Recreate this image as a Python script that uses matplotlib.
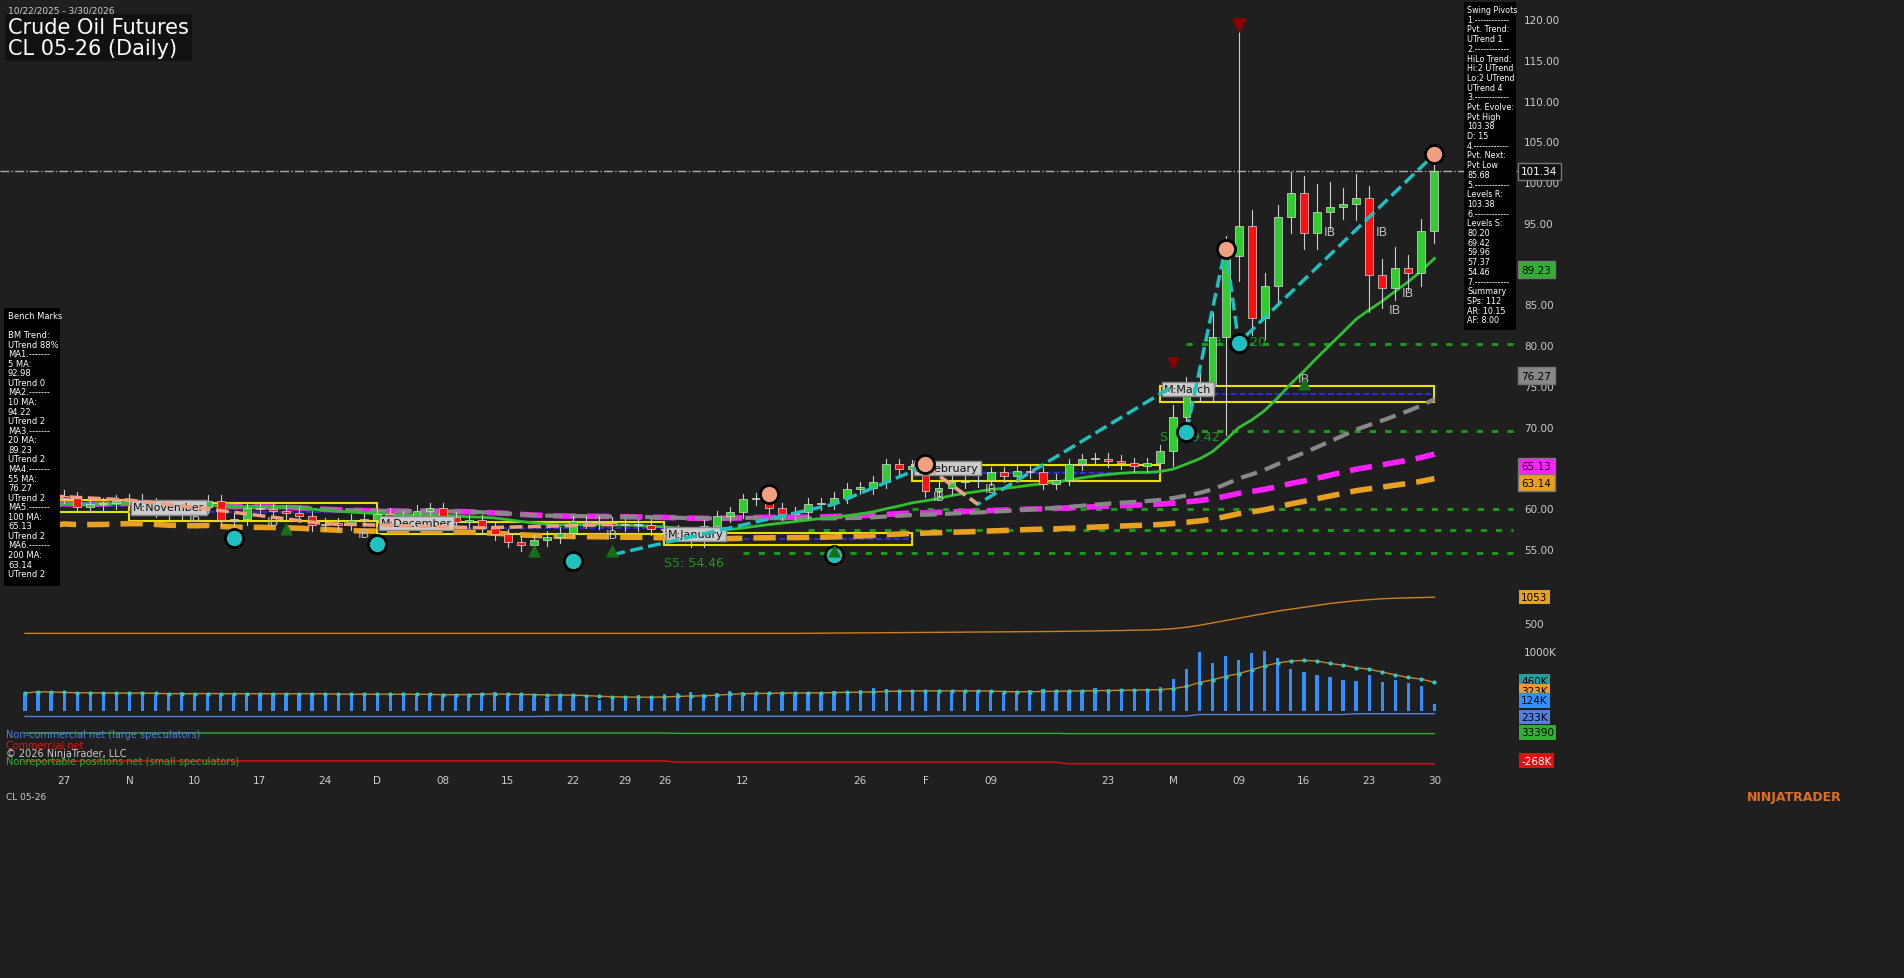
import numpy as np
import pandas as pd
import matplotlib
matplotlib.use("Agg")
import matplotlib.pyplot as plt
from matplotlib.patches import Rectangle

W, H = 1904, 979
BG = "#1f1f1f"

holidays = ["2025-11-27", "2025-12-25", "2026-01-01", "2026-01-19", "2026-02-16"]
dates = pd.bdate_range("2025-10-22", "2026-03-30")
dates = dates[~dates.isin(pd.to_datetime(holidays))]

close_oct = [58.5, 61.0, 61.5, 61.3, 60.2, 60.5, 60.6, 60.9]
close_nov = [61.0, 60.6, 59.6, 59.4, 59.8, 60.1, 60.9, 58.5, 58.7, 60.0, 59.9, 59.7, 59.4, 59.0, 57.9, 58.1, 58.0, 58.6, 58.5]
close_dec = [59.3, 59.0, 58.9, 59.7, 60.0, 58.9, 58.3, 58.5, 57.6, 56.8, 55.9, 55.5, 56.1, 56.5, 57.0, 58.4, 58.3, 58.2, 58.0, 57.9, 58.0, 57.4]
close_jan = [57.3, 56.8, 56.0, 57.8, 59.0, 59.5, 61.1, 61.2, 60.0, 59.3, 59.5, 60.5, 60.6, 61.3, 62.4, 62.5, 63.2, 65.4, 64.8, 65.2]
close_feb = [62.1, 62.5, 63.2, 63.3, 63.5, 64.4, 63.9, 64.6, 64.4, 63.0, 63.5, 65.4, 66.0, 66.1, 65.8, 65.5, 65.2, 65.5, 67.0]
close_mar = [71.2, 74.6, 75.0, 81.0, 90.9, 94.6, 83.3, 87.3, 95.7, 98.7, 93.8, 96.3, 97.0, 97.3, 98.0, 88.6, 87.0, 89.5, 88.8, 94.0, 101.34]
upwick_mar = [1.5, 1.5, 2.0, 3.0, 2.5, 24.9, 2.0, 1.5, 1.5, 2.5, 2.0, 3.5, 3.0, 2.0, 3.0, 1.5, 2.0, 2.5, 1.5, 1.5, 1.5]
lowick_mar = [1.8, 2.5, 1.5, 2.0, 12.0, 3.0, 2.0, 2.5, 2.0, 2.0, 2.0, 2.0, 2.0, 1.5, 2.0, 4.5, 2.5, 1.5, 2.0, 1.5, 1.5]

volume_k = [300, 340, 310, 290, 280, 300, 290, 280, 300, 290, 270, 280, 310, 290, 300, 280, 270, 290, 300, 280,
            270, 290, 300, 280, 260, 250, 280, 290, 300, 270, 280, 260, 250, 280, 290, 300, 310, 270, 260, 230,
            220, 250, 240, 200, 180, 220, 250, 260, 240, 290, 300, 310, 280, 300, 330, 320, 290, 280, 300, 290,
            310, 320, 330, 340, 350, 380, 360, 340, 320, 310, 300, 320, 330, 340, 320, 300, 330, 350, 360, 340,
            330, 340, 380, 360, 350, 340, 370, 400, 530, 700, 980, 800, 920, 850, 960, 1000, 880, 700, 650, 600,
            560, 520, 500, 600, 480, 520, 460, 420, 124]
oi = [290]*60 + [292, 294, 296, 298, 300, 302, 304, 306, 308, 310, 312, 314, 316, 318, 320, 322, 324, 326, 328,
      330, 334, 338, 342, 346, 350, 356, 362, 370, 390, 420, 460, 510, 560, 610, 660, 710, 760, 800, 840, 880,
      920, 950, 980, 1000, 1020, 1030, 1040, 1045, 1053]
cot_noncomm = [205]*40 + [207]*30 + [210]*20 + [225]*12 + [233]*7
cot_small = [40]*50 + [36]*30 + [34]*29
cot_comm = [-240]*50 + [-252]*30 + [-268]*29

closes = np.array(close_oct + close_nov + close_dec + close_jan + close_feb + close_mar)
n = len(closes)
opens = np.r_[closes[0] - 0.5, closes[:-1]]
upw = np.array([0.7] * (n - 21) + upwick_mar)
low = np.array([0.7] * (n - 21) + lowick_mar)
highs = np.maximum(opens, closes) + upw
lows = np.minimum(opens, closes) - low
x = np.arange(n)
s = pd.Series(closes)
ma20 = s.rolling(20, min_periods=1).mean()
ma55 = s.rolling(55, min_periods=1).mean()
ma100 = s.rolling(100, min_periods=1).mean()
ma200 = s.rolling(200, min_periods=1).mean() - 2.5

fig = plt.figure(figsize=(W / 100, H / 100), dpi=100, facecolor=BG)

def axp(x0, y0, x1, y1):
    a = fig.add_axes([x0 / W, 1 - y1 / H, (x1 - x0) / W, (y1 - y0) / H])
    a.set_facecolor(BG)
    for sp in a.spines.values():
        sp.set_visible(False)
    a.tick_params(colors="#cccccc", labelsize=7.5, length=0)
    return a

XL = (-25 / 13.05, (1519 - 25) / 13.05)
ax = axp(0, 0, 1519, 593)
ax.set_xlim(*XL)
ax.set_ylim(49.73, 122.45)
ax.yaxis.tick_right()
ax.set_yticks(np.arange(55, 121, 5))
ax.set_yticklabels([f"{v:.2f}" for v in np.arange(55, 121, 5)])
ax.set_xticks([])

# levels
for lv, start in [(80.2, 89), (69.42, 89), (59.96, 68), (57.37, 60), (54.46, 55)]:
    ax.plot([start, 114], [lv, lv], color="#1a9a1a", ls=(0, (2, 3)), lw=2.2, zorder=1)
ax.axhline(101.34, color="#aaaaaa", ls="-.", lw=1)

# month boxes
boxes = [(-1, 8, 59.6, 61.0, "M:November"), (8, 27, 58.4, 60.6, "M:November"),
         (27, 49, 56.8, 58.3, "M:December"), (49, 68, 55.5, 57.0, "M:January"),
         (68, 87, 63.3, 65.3, "M:February"), (87, 108, 73.0, 75.0, "M:March")]
for a0, a1, y0, y1, lab in boxes:
    ax.add_patch(Rectangle((a0, y0), a1 - a0, y1 - y0, fill=False, ec="#e8e000", lw=1.5, zorder=2))
    ax.plot([a0, a1], [(y0 + y1) / 2] * 2, color="#3030ff", ls="--", lw=1.2, zorder=2)
for a0, a1, y0, y1, lab in boxes[1:]:
    ax.text(a0 + 0.3, (y0 + y1) / 2 + 0.6, lab, fontsize=8, color="#111111",
            bbox=dict(fc="#cccccc", ec="#888888", pad=1.5), zorder=6, va="center")

# moving averages
ax.plot(x, ma200, color="#e8a020", lw=4, ls=(0, (4, 2)), zorder=3)
ax.plot(x, ma100, color="#ff20ff", lw=4, ls=(0, (4, 2)), zorder=3)
ax.plot(x, ma55, color="#888888", lw=3, ls=(0, (4, 2)), zorder=3)
ax.plot(x, ma20, color="#30c030", lw=2, zorder=3)

# candles
for i in x:
    up = closes[i] >= opens[i]
    col = "#30cc30" if up else "#ff1010"
    ax.plot([i, i], [lows[i], highs[i]], color="#cccccc", lw=0.8, zorder=4)
    b0, b1 = min(opens[i], closes[i]), max(opens[i], closes[i])
    ax.add_patch(Rectangle((i - 0.3, b0), 0.6, max(b1 - b0, 0.15), fc=col, ec="#dddddd", lw=0.5, zorder=5))

# swing pivot lines
sal = [2, 8, 13, 23, 35, 45]
ax.plot(sal, [closes[i] for i in sal], color="#f0a080", ls="--", lw=2.5, zorder=6)
ax.plot([45, 62, 69], [54.3, 60.5, 65.2], color="#20c0c0", ls="--", lw=2.5, zorder=6)
ax.plot([69, 73, 88], [65.2, 60.5, 75.0], color="#20c0c0", ls="--", lw=2.5, zorder=6)
ax.plot([89, 92, 93, 108], [69.4, 92.0, 80.3, 103.4], color="#20c0c0", ls="--", lw=2.5, zorder=6)
ax.plot([69, 73], [65.2, 60.5], color="#f0a080", ls="--", lw=2.5, zorder=6)
for (xi, yi, c) in [(16, 56.4, "#20c0c0"), (27, 55.6, "#20c0c0"), (42, 53.5, "#20c0c0"), (62, 54.3, "#20c0c0"),
                    (69, 65.4, "#f0a080"), (57, 61.8, "#f0a080"), (92, 91.8, "#f0a080"), (89, 69.4, "#20c0c0"),
                    (93, 80.3, "#20c0c0"), (108, 103.4, "#f0a080")]:
    ax.scatter(xi, yi, s=170, color=c, edgecolors="black", linewidths=2, zorder=7)
ax.scatter(93, 119.3, marker="v", s=90, color="#8b0000", zorder=7)
ax.scatter(88, 77.8, marker="v", s=60, color="#8b0000", zorder=7)
for xi, yi in [(45, 54.7), (39, 54.7), (62, 54.7), (20, 57.5), (98, 75.2)]:
    ax.scatter(xi, yi, marker="^", s=60, color="#157015", zorder=7)
for xi, yi in [(13, 58.5), (19, 58.0), (26, 56.5), (29, 57.5), (45, 56.3), (70, 61.0), (74, 62.0), (98, 75.5),
               (100, 93.5), (104, 93.5), (106, 86.0), (105, 84.0), (89, 69.4)]:
    ax.text(xi, yi, "IB", color="#bbbbbb", fontsize=9, ha="center")
ax.text(49, 52.9, "S5: 54.46", color="#1a9a1a", fontsize=9)
ax.text(87, 68.4, "S2: 69.42", color="#1a9a1a", fontsize=9)
ax.text(90.5, 80.0, "S3: 80.20", color="#1a9a1a", fontsize=9)

# right price labels
for v, fc, tc in [(101.34, "#111111", "white"), (89.23, "#30b030", "black"), (76.27, "#888888", "black"),
                  (65.13, "#ff20ff", "black"), (63.14, "#e8a020", "black")]:
    ax.text(1.0015, (v - 49.73) / (122.45 - 49.73), f"{v:.2f}", transform=ax.transAxes, fontsize=7.5,
            color=tc, va="center", ha="left", bbox=dict(fc=fc, ec="#777777", pad=2.5), clip_on=False)

# title
fig.text(8 / W, 1 - 7 / H, "10/22/2025 - 3/30/2026", color="#cccccc", fontsize=6.5, va="top")
fig.text(8 / W, 1 - 18 / H, "Crude Oil Futures\nCL 05-26 (Daily)", color="white", fontsize=15, va="top",
         linespacing=1.05, bbox=dict(fc="#111111", ec="none", pad=2))

bench = ("Bench Marks\n\nBM Trend:\nUTrend 88%\nMA1.-------\n5 MA:\n92.98\nUTrend 0\nMA2.-------\n10 MA:\n94.22\n"
         "UTrend 2\nMA3.-------\n20 MA:\n89.23\nUTrend 2\nMA4.-------\n55 MA:\n76.27\nUTrend 2\nMA5.-------\n"
         "100 MA:\n65.13\nUTrend 2\nMA6.-------\n200 MA:\n63.14\nUTrend 2")
fig.add_artist(Rectangle((4 / W, 1 - 587 / H), 56 / W, 278 / H, transform=fig.transFigure, fc="black", ec="none", zorder=8))
fig.text(8 / W, 1 - 312 / H, bench, color="white", fontsize=6.0, va="top", linespacing=1.08, zorder=9)
swing = ("Swing Pivots\n1.------------\nPvt. Trend:\nUTrend 1\n2.------------\nHiLo Trend:\nHi:2 UTrend\nLo:2 UTrend\n"
         "UTrend 4\n3.------------\nPvt. Evolve:\nPvt High\n103.38\nD: 15\n4.------------\nPvt. Next:\nPvt Low\n85.68\n"
         "5.------------\nLevels R:\n103.38\n6.------------\nLevels S:\n80.20\n69.42\n59.96\n57.37\n54.46\n7.------------\n"
         "Summary\nSPs: 112\nAR: 10.15\nAF: 8.00")
fig.add_artist(Rectangle((1464 / W, 1 - 331 / H), 52 / W, 328 / H, transform=fig.transFigure, fc="black", ec="none", zorder=8))
fig.text(1467 / W, 1 - 6 / H, swing, color="white", fontsize=5.8, va="top", linespacing=1.1, zorder=9)

# open interest panel
ax2 = axp(0, 595, 1519, 641)
ax2.set_xlim(*XL)
ax2.plot(x, oi, color="#d08020", lw=1)
ax2.set_ylim(150, 1120)
ax2.yaxis.tick_right()
ax2.set_yticks([500])
ax2.set_xticks([])
ax2.text(1.0015, (1053 - 150) / 970, "1053", transform=ax2.transAxes, fontsize=7.5, va="center",
         bbox=dict(fc="#e8a020", ec="none", pad=1.5), clip_on=False)

# volume panel
ax3 = axp(0, 643, 1519, 712)
ax3.set_xlim(*XL)
ax3.bar(x, volume_k, width=0.25, color="#3090ff")
vm = pd.Series(volume_k).rolling(10, min_periods=1).mean()
ax3.plot(x, vm, color="#d08020", lw=1)
ax3.scatter(x, vm, s=4, color="#20d0d0", zorder=3)
ax3.set_ylim(0, 1150)
ax3.yaxis.tick_right()
ax3.set_yticks([1000])
ax3.set_yticklabels(["1000K"])
ax3.set_xticks([])
for v, t, fc in [(500, "460K", "#20a0a0"), (340, "323K", "#e8a020"), (175, "124K", "#3090ff")]:
    ax3.text(1.0015, v / 1150, t, transform=ax3.transAxes, fontsize=7.5, va="center",
             bbox=dict(fc=fc, ec="none", pad=1.5), clip_on=False)

# COT panel
ax4 = axp(0, 714, 1519, 768)
ax4.set_xlim(*XL)
ax4.plot(x, cot_noncomm, color="#5080e0", lw=1)
ax4.plot(x, cot_small, color="#30b030", lw=1)
ax4.plot(x, cot_comm, color="#e01010", lw=1)
ax4.set_ylim(-300, 240)
ax4.set_yticks([])
ax4.set_xticks([])
for yf, t, fc, tc in [(0.93, "233K", "#5080e0", "black"), (0.64, "33390", "#30b030", "black"), (0.12, "-268K", "#e01010", "white")]:
    ax4.text(1.0015, yf, t, transform=ax4.transAxes, fontsize=7.5, va="center", color=tc,
             bbox=dict(fc=fc, ec="none", pad=1.5), clip_on=False)
ax4.text(0.004, 0.55, "Non-commercial net (large speculators)", transform=ax4.transAxes, color="#5080e0", fontsize=7)
ax4.text(0.004, 0.36, "Commercial net", transform=ax4.transAxes, color="#e01010", fontsize=7)
ax4.text(0.004, 0.2, "© 2026 NinjaTrader, LLC", transform=ax4.transAxes, color="#cccccc", fontsize=7)
ax4.text(0.004, 0.06, "Nonreportable positions net (small speculators)", transform=ax4.transAxes, color="#30b030", fontsize=7)

# x axis labels
lab_dates = ["2025-10-27", "2025-11-03", "2025-11-10", "2025-11-17", "2025-11-24", "2025-12-01", "2025-12-08",
             "2025-12-15", "2025-12-22", "2025-12-29", "2026-01-02", "2026-01-12", "2026-01-26", "2026-02-02",
             "2026-02-09", "2026-02-23", "2026-03-02", "2026-03-09", "2026-03-16", "2026-03-23", "2026-03-30"]
lab_text = ["27", "N", "10", "17", "24", "D", "08", "15", "22", "29", "26", "12", "26", "F", "09", "23", "M",
            "09", "16", "23", "30"]
ax5 = axp(0, 770, 1519, 795)
ax5.set_xlim(*XL)
ax5.set_ylim(0, 1)
ax5.set_yticks([])
ax5.set_xticks([dates.get_loc(pd.Timestamp(d)) for d in lab_dates])
ax5.set_xticklabels(lab_text)
ax5.tick_params(axis="x", pad=-14)

fig.text(6 / W, 1 - 798 / H, "CL 05-26", color="#cccccc", fontsize=6.5, va="center")
fig.text(1842 / W, 1 - 798 / H, "NINJATRADER", color="#e07020", fontsize=9, fontweight="bold", va="center", ha="right")

fig.savefig("out.png", dpi=100, facecolor=BG)
